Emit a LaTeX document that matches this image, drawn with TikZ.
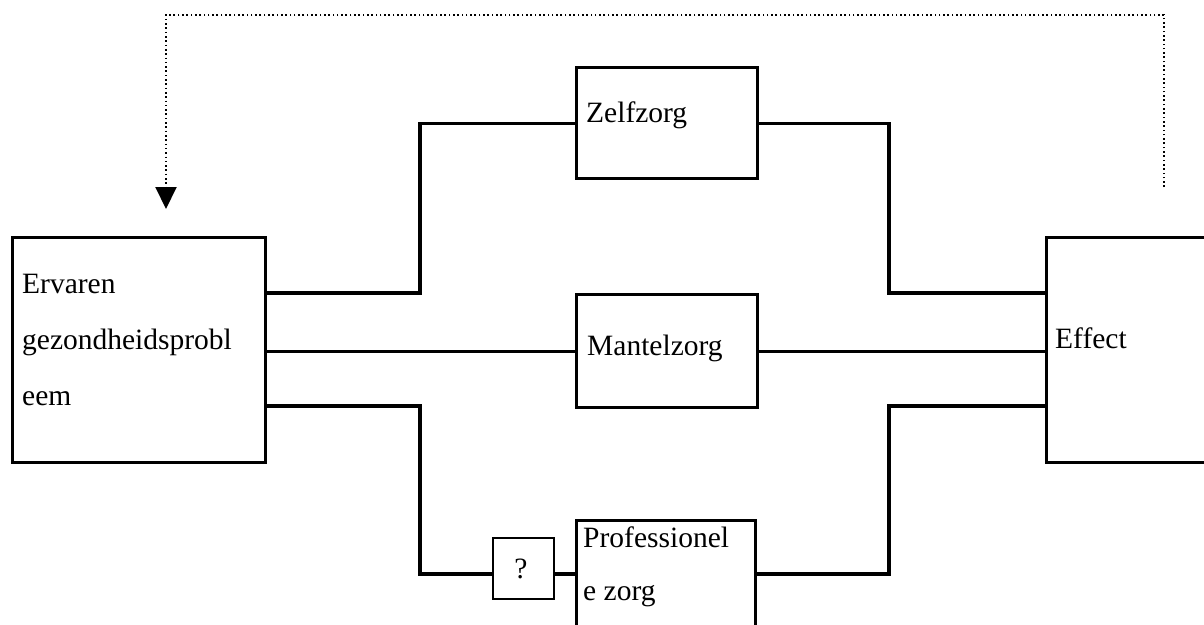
\documentclass[tikz,border=0pt]{standalone}
\usepackage{fontspec}
\setmainfont{Liberation Serif}
\usetikzlibrary{arrows.meta}
\tikzset{
  boxnode/.style={draw, line width=3.4pt, rectangle, anchor=north west, inner sep=0pt},
  qbox/.style={draw, line width=1.7pt, rectangle, anchor=north west, inner sep=0pt},
  lbl/.style={anchor=base west, inner sep=0pt, font=\fontsize{29.5}{34}\selectfont},
  conn/.style={line width=3.4pt},
  dotline/.style={line width=2pt, dash pattern=on 1.6pt off 2.7pt}
}
\begin{document}
\begin{tikzpicture}[x=1pt,y=-1pt]
\clip (0,0) rectangle (1204,624);
\fill[white] (0,0) rectangle (1204,624);
% boxes
\node[boxnode, minimum width=253pt, minimum height=225pt] (ervaren) at (11,236) {};
\node[boxnode, minimum width=190pt, minimum height=225pt] (effect) at (1045,236) {};
\node[boxnode, minimum width=181pt, minimum height=111pt] (zelf) at (575,66) {};
\node[boxnode, minimum width=181pt, minimum height=113pt] (mantel) at (575,293) {};
\node[boxnode, minimum width=179pt, minimum height=113pt] (prof) at (575,519) {};
\node[qbox, minimum width=61pt, minimum height=61pt] (q) at (492,537) {};
% labels
\node[lbl] (t1) at (22,293) {Ervaren};
\node[lbl] (t2) at (22,349) {gezondheidsprobl};
\node[lbl] (t3) at (22,405) {eem};
\node[lbl] (tz) at (586,122) {Zelfzorg};
\node[lbl] (tm) at (587,355) {Mantelzorg};
\node[lbl] (tp1) at (583,547) {Professionel};
\node[lbl] (tp2) at (583,600) {e zorg};
\node[lbl] (te) at (1055,348) {Effect};
\node[lbl, anchor=base] (tq) at (521,578) {?};
% junction coordinates
\coordinate (j1) at (420,293);
\coordinate (j3) at (420,406);
\coordinate (pl) at (420,574);
\coordinate (r1) at (889,293);
\coordinate (r3) at (889,406);
% connectors
\draw[conn] (ervaren.east |- j1) -- (j1) |- (zelf.west);
\draw[conn] (ervaren.east |- mantel.west) -- (mantel.west);
\draw[conn] (ervaren.east |- j3) -- (j3) -- (pl) -- (q.west |- pl);
\draw[conn] (q.east |- pl) -- (prof.west |- pl);
\draw[conn] (zelf.east) -| (r1) -- (effect.west |- r1);
\draw[conn] (mantel.east) -- (effect.west |- mantel.east);
\draw[conn] (prof.east |- pl) -| (r3) -- (effect.west |- r3);
% feedback dotted arrow
\coordinate (ds) at (1164,187);
\coordinate (dc1) at (1164,15);
\coordinate (dt) at (166,209);
\draw[dotline, -{Triangle[length=22pt,width=21pt]}] (ds) -- (dc1) -| (dt);
\end{tikzpicture}
\end{document}
